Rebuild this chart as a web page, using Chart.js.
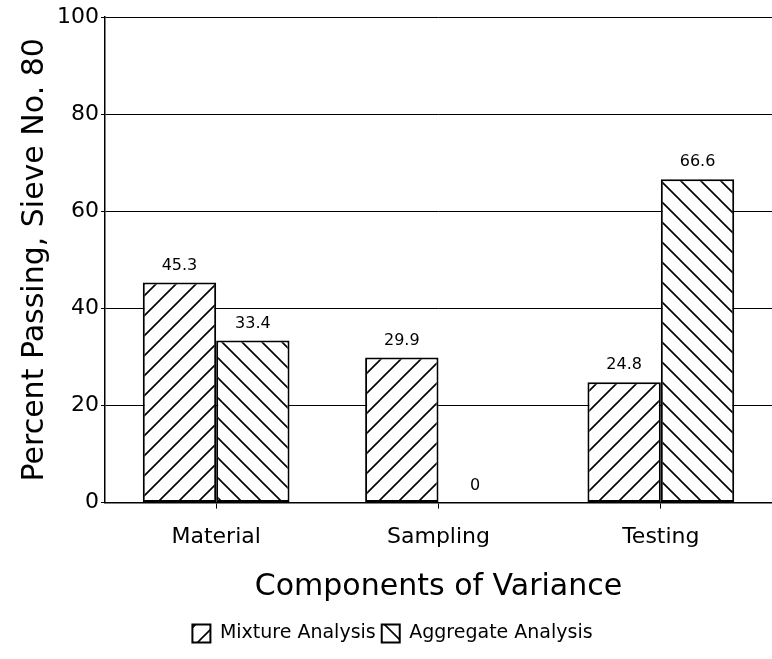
<!DOCTYPE html>
<html>
<head>
<meta charset="utf-8">
<script src="https://cdn.jsdelivr.net/npm/chart.js@4/dist/chart.umd.min.js"></script>
<style>
  body { margin: 0; background: #fff; }
  #wrap { width: 772px; height: 659px; }
</style>
</head>
<body>
<div id="wrap"><canvas id="chart"></canvas></div>
<script>
const categories = ['Material', 'Sampling', 'Testing'];
const mixture = [45.3, 29.9, 24.8];
const aggregate = [33.4, 0, 66.6];
const yTicks = [0, 20, 40, 60, 80, 100];

// hatch fill, dir 1 = "/", dir -1 = "\"
const hatch = (dir) => {
  const s = 20;
  const c = document.createElement('canvas');
  c.width = s; c.height = s;
  const g = c.getContext('2d');
  g.fillStyle = '#fff';
  g.fillRect(0, 0, s, s);
  g.strokeStyle = '#000';
  g.lineWidth = 1.6;
  g.beginPath();
  if (dir > 0) {
    g.moveTo(-2, s + 2); g.lineTo(s + 2, -2);
    g.moveTo(-2, 2); g.lineTo(2, -2);
    g.moveTo(s - 2, s + 2); g.lineTo(s + 2, s - 2);
  } else {
    g.moveTo(-2, -2); g.lineTo(s + 2, s + 2);
    g.moveTo(-2, s - 2); g.lineTo(2, s + 2);
    g.moveTo(s - 2, -2); g.lineTo(s + 2, 2);
  }
  g.stroke();
  return document.getElementById('chart').getContext('2d').createPattern(c, 'repeat');
};

const font = '"DejaVu Sans", sans-serif';

const valueLabels = {
  id: 'valueLabels',
  afterDatasetsDraw(chart) {
    const ctx = chart.ctx;
    ctx.save();
    ctx.fillStyle = '#000';
    ctx.font = '16px ' + font;
    ctx.textAlign = 'center';
    ctx.textBaseline = 'bottom';
    chart.data.datasets.forEach((ds, i) => {
      chart.getDatasetMeta(i).data.forEach((bar, j) => {
        ctx.fillText(String(ds.data[j]), bar.x, bar.y - 9);
      });
    });
    ctx.restore();
  }
};

new Chart(document.getElementById('chart'), {
  type: 'bar',
  data: {
    labels: categories,
    datasets: [
      {
        label: 'Mixture Analysis',
        data: mixture,
        backgroundColor: hatch(1),
        borderColor: '#000',
        borderWidth: 2,
        borderSkipped: false
      },
      {
        label: 'Aggregate Analysis',
        data: aggregate,
        backgroundColor: hatch(-1),
        borderColor: '#000',
        borderWidth: 2,
        borderSkipped: false
      }
    ]
  },
  options: {
    responsive: true,
    maintainAspectRatio: false,
    animation: false,
    layout: { padding: { top: 17, right: 0, left: 13, bottom: 6 } },
    datasets: { bar: { categoryPercentage: 0.66, barPercentage: 1 } },
    plugins: {
      tooltip: { enabled: false },
      legend: {
        position: 'bottom',
        labels: {
          color: '#000',
          font: { family: font, size: 19 },
          boxWidth: 18,
          boxHeight: 18,
          padding: 6
        }
      }
    },
    scales: {
      x: {
        grid: { display: true, drawOnChartArea: false, offset: false, tickLength: 6, color: '#000' },
        border: { color: '#000', width: 1.5 },
        ticks: { color: '#000', font: { family: font, size: 22 }, padding: 15 },
        title: {
          display: true,
          text: 'Components of Variance',
          color: '#000',
          font: { family: font, size: 30 },
          padding: { top: 4, bottom: 13 }
        }
      },
      y: {
        min: 0,
        max: 100,
        afterBuildTicks: (axis) => { axis.ticks = yTicks.map(v => ({ value: v })); },
        grid: { color: '#000', lineWidth: 1, drawTicks: true, tickLength: 4 },
        border: { color: '#000', width: 1.5 },
        ticks: { color: '#000', font: { family: font, size: 22 }, padding: 2 },
        title: {
          display: true,
          text: 'Percent Passing, Sieve No. 80',
          color: '#000',
          font: { family: font, size: 30 },
          padding: { bottom: 2 }
        }
      }
    }
  },
  plugins: [valueLabels]
});
</script>
</body>
</html>
